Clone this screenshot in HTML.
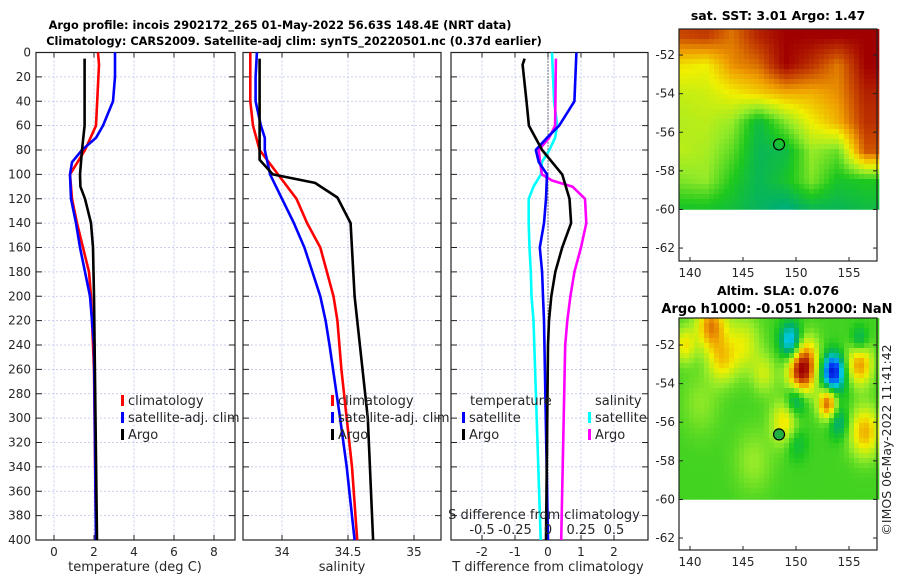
<!DOCTYPE html>
<html><head><meta charset="utf-8">
<style>
body{margin:0;background:#fff;}
svg{display:block;font-family:"DejaVu Sans","Liberation Sans",sans-serif;}
.tk{font-size:12px;fill:#262626;}
.tt{font-size:13px;font-weight:bold;fill:#000;}
</style></head>
<body>
<svg id="fig" width="900" height="580" viewBox="0 0 900 580" xmlns="http://www.w3.org/2000/svg">
<rect width="900" height="580" fill="#fff"/>
<text class="tt" x="280" y="29" text-anchor="middle" style="font-size:11.3px">Argo profile: incois 2902172_265 01-May-2022 56.63S 148.4E (NRT data)</text>
<text class="tt" x="294" y="45" text-anchor="middle" style="font-size:11.3px">Climatology: CARS2009. Satellite-adj clim: synTS_20220501.nc (0.37d earlier)</text>
<g id="g"></g>
</svg>
<script>
// ---- data ----
const depthTicks=[0,20,40,60,80,100,120,140,160,180,200,220,240,260,280,300,320,340,360,380,400];
const tTicks=[0,2,4,6,8];
const sTicks=[34,34.5,35];
const tdTicks=[-2,-1,0,1,2];
const sdTicks=[-0.5,-0.25,0,0.25,0.5];
const sdTickLabels=["-0.5","-0.25","0","0.25","0.5"];

const tClimDepth=[0,10,60,80,100,120,140,160,180,200,260,400];
const tClimVal=[2.2,2.25,2.1,1.55,0.8,0.9,1.15,1.45,1.75,1.85,2.0,2.1];
const tSatDepth=[0,20,40,60,70,80,90,100,120,140,160,180,200,240,400];
const tSatVal=[3.05,3.05,2.95,2.45,2.1,1.4,0.9,0.8,0.85,1.1,1.3,1.55,1.8,2.0,2.1];
const tArgoDepth=[5,60,80,100,110,120,140,160,200,400];
const tArgoVal=[1.53,1.53,1.4,1.3,1.32,1.55,1.85,1.95,2.0,2.15];

const sClimDepth=[0,40,60,80,100,120,140,160,180,200,220,260,300,340,400];
const sClimVal=[33.76,33.76,33.78,33.83,33.97,34.11,34.19,34.29,34.34,34.39,34.42,34.45,34.49,34.53,34.57];
const sSatDepth=[0,20,40,60,70,80,100,120,140,160,180,200,220,240,300,340,400];
const sSatVal=[33.81,33.8,33.8,33.84,33.87,33.87,33.91,34.0,34.09,34.17,34.23,34.29,34.33,34.36,34.44,34.49,34.55];
const sArgoDepth=[5,88,100,107,119,140,200,300,400];
const sArgoVal=[33.83,33.83,33.93,34.25,34.42,34.52,34.55,34.65,34.69];

const dtArgoDepth=[5,10,40,60,80,100,120,140,160,180,200,220,240,400];
const dtArgoVal=[-0.71,-0.77,-0.65,-0.58,-0.18,0.43,0.65,0.7,0.43,0.22,0.1,0.03,0,-0.06];
const dtSatDepth=[0,20,40,60,70,80,90,100,120,140,160,180,200,220,400];
const dtSatVal=[0.86,0.83,0.8,0.34,-0.03,-0.37,-0.28,-0.03,-0.06,-0.12,-0.25,-0.18,-0.15,-0.12,0];
const dsSatDepth=[0,40,60,70,80,90,100,110,120,140,160,180,200,220,400];
const dsSatVal=[0.03,0.046,0.07,0.054,0.01,-0.046,-0.054,-0.11,-0.146,-0.146,-0.14,-0.13,-0.125,-0.11,-0.055];
const dsArgoDepth=[5,60,70,80,90,100,105,110,120,140,160,180,200,220,240,400];
const dsArgoVal=[0.06,0.054,0.008,-0.07,-0.06,-0.046,0.03,0.185,0.28,0.29,0.25,0.2,0.17,0.146,0.13,0.1];

// maps
const lonTicks=[140,145,150,155];
const latTicks=[-52,-54,-56,-58,-60,-62];
const sstLons=[139,141.5,144,146.5,149,151.5,154,156.5];
const sstLats=[-51,-52.5,-54,-55.5,-57,-58.5,-60];
const sstGrid=[
[0.9,0.92,0.85,0.95,1,1,1,1],
[0.72,0.7,0.82,0.86,1,0.93,0.84,1],
[0.65,0.66,0.7,0.74,0.78,0.78,0.82,0.95],
[0.63,0.64,0.6,0.45,0.58,0.7,0.78,0.93],
[0.64,0.62,0.55,0.43,0.45,0.6,0.56,0.88],
[0.58,0.6,0.5,0.43,0.48,0.58,0.48,0.5],
[0.48,0.48,0.46,0.42,0.38,0.43,0.43,0.45]];
const slaBase=0.53;
const blobLon=[142,145,149.5,150.5,153.5,156,156,150,153,149,154,156.5,143,150,139.5,151,147,141,153.5,146];
const blobLat=[-51,-52,-51.8,-53.5,-53.3,-53,-51.8,-54.8,-55,-56,-56,-56.5,-52.8,-57,-52,-52.5,-53.5,-55,-53.8,-58];
const blobAmp=[0.3,0.15,-0.3,0.42,-0.35,0.28,-0.15,-0.22,0.38,0.2,-0.15,0.25,0.18,-0.1,0.18,0.18,0.12,0.06,-0.18,0.07];
const blobSize=[1.4,1.6,1.0,1.3,0.9,1.2,0.8,1.0,0.9,1.3,0.9,1.4,1.3,1.0,1.0,1.2,1.1,1.8,1.3,1.8];
const mapCircleLon=148.4, mapCircleLat=-56.63;

// ---- drawing ----
const NS='http://www.w3.org/2000/svg';
const G=document.getElementById('g');
function mk(tag,attrs,parent){const e=document.createElementNS(NS,tag);for(const k in attrs)e.setAttribute(k,attrs[k]);(parent||G).appendChild(e);return e;}
const Y0=52.5,Y1=540;
const yD=d=>Y0+(d/400)*(Y1-Y0);

function panel(name,x0,x1,xs,xticks,xlabels,ylabels){
  const g=mk('g',{});
  
  
  xticks.forEach(v=>{const x=xs(v);mk('line',{x1:x,x2:x,y1:Y0,y2:Y1,stroke:'#b8c0e8','stroke-width':0.8,'stroke-dasharray':'2,2'},g);
    mk('line',{x1:x,x2:x,y1:Y1,y2:Y1-5,stroke:'#222'},g);mk('line',{x1:x,x2:x,y1:Y0,y2:Y0+5,stroke:'#222'},g);});
  depthTicks.forEach(d=>{const y=yD(d);
    if(d>0&&d<400)mk('line',{x1:x0,x2:x1,y1:y,y2:y,stroke:'#b8c0e8','stroke-width':0.8,'stroke-dasharray':'2,2'},g);
    mk('line',{x1:x0,x2:x0+6,y1:y,y2:y,stroke:'#222'},g);mk('line',{x1:x1-6,x2:x1,y1:y,y2:y,stroke:'#222'},g);
    if(ylabels){const t=mk('text',{x:x0-5,y:y+4,'text-anchor':'end',class:'tk'},g);t.textContent=d;
      
      }
  });
  mk('rect',{x:x0,y:Y0,width:x1-x0,height:Y1-Y0,fill:'none',stroke:'#222','stroke-width':1.2},g);
  xticks.forEach((v,i)=>{const t=mk('text',{x:xs(v),y:Y1+16,'text-anchor':'middle',class:'tk'},g);t.textContent=xlabels[i];
    
    });
  return g;
}
function line(g,depths,vals,xs,color,name){
  const pts=depths.map((d,i)=>xs(vals[i]).toFixed(1)+','+yD(d).toFixed(1)).join(' ');
  const p=mk('polyline',{points:pts,fill:'none',stroke:color,'stroke-width':2.6,'stroke-linejoin':'round'},g);
  
  
}
function legend(g,x,y,items){
  items.forEach((it,i)=>{const yy=y+i*17;
    mk('rect',{x:x,y:yy-9,width:3,height:11,fill:it[1]},g);
    const t=mk('text',{x:x+7,y:yy+1,class:'tk',style:'font-size:13px'},g);t.textContent=it[0];
    
    });
}
function label(txt,x,y,name,anchor){const t=mk('text',{x:x,y:y,'text-anchor':anchor||'middle',class:'tk',style:'font-size:13px'});t.textContent=txt;
  
  return t;}

// panel 1
const xT=v=>54+20*v;
const p1=panel('temperature-panel',36,235,xT,tTicks,tTicks.map(String),true);
line(p1,tClimDepth,tClimVal,xT,'#ff0000','temp-climatology-line');
line(p1,tSatDepth,tSatVal,xT,'#0000ff','temp-satellite-line');
line(p1,tArgoDepth,tArgoVal,xT,'#000','temp-argo-line');
legend(p1,121,404,[['climatology','#ff0000'],['satellite-adj. clim','#0000ff'],['Argo','#000']]);
label('temperature (deg C)',135,571,'x-axis-title-temperature');

// panel 2
const xS=v=>282+132*(v-34);
const p2=panel('salinity-panel',243,441,xS,sTicks,['34','34.5','35'],false);
line(p2,sClimDepth,sClimVal,xS,'#ff0000','sal-climatology-line');
line(p2,sSatDepth,sSatVal,xS,'#0000ff','sal-satellite-line');
line(p2,sArgoDepth,sArgoVal,xS,'#000','sal-argo-line');
legend(p2,331,404,[['climatology','#ff0000'],['satellite-adj. clim','#0000ff'],['Argo','#000']]);
label('salinity',342,571,'x-axis-title-salinity');

// panel 3
const xDT=v=>548+33*v;
const xDS=v=>548+132*v;
const p3=panel('difference-panel',451,648,xDT,tdTicks,tdTicks.map(String),false);
mk('line',{x1:xDT(0),x2:xDT(0),y1:Y0,y2:Y1,stroke:'#000','stroke-width':1,'stroke-dasharray':'1,2'},p3);
line(p3,dsSatDepth,dsSatVal,xDS,'#00ffff','sdiff-satellite-line');
line(p3,dsArgoDepth,dsArgoVal,xDS,'#ff00ff','sdiff-argo-line');
line(p3,dtSatDepth,dtSatVal,xDT,'#0000ff','tdiff-satellite-line');
line(p3,dtArgoDepth,dtArgoVal,xDT,'#000','tdiff-argo-line');
let t3=mk('text',{x:470,y:405,class:'tk',style:'font-size:13px'},p3);t3.textContent='temperature';


t3=mk('text',{x:595,y:405,class:'tk',style:'font-size:13px'},p3);t3.textContent='salinity';


legend(p3,462,421,[['satellite','#0000ff'],['Argo','#000']]);
legend(p3,588,421,[['satellite','#00ffff'],['Argo','#ff00ff']]);
label('S difference from climatology',544,519,'s-diff-axis-title');
sdTicks.forEach((v,i)=>{label(sdTickLabels[i],xDS(v),534,'s-diff-tick-label');});
label('T difference from climatology',548,571,'x-axis-title-tdiff');

// ---- maps ----
const MX0=679,MX1=877;
const lonX=l=>690+(l-140)*10.6;
function cmap(v){
  const st=[[0,[0,0,200]],[0.15,[0,80,255]],[0.3,[0,200,220]],[0.4,[0,175,110]],[0.5,[30,200,30]],[0.6,[150,235,40]],[0.7,[240,240,0]],[0.8,[240,160,0]],[0.9,[200,70,0]],[1,[160,0,0]]];
  v=Math.max(0,Math.min(1,v));
  for(let i=1;i<st.length;i++){if(v<=st[i][0]){const a=st[i-1],b=st[i],f=(v-a[0])/(b[0]-a[0]);
    return 'rgb('+a[1].map((c,j)=>Math.round(c+(b[1][j]-c)*f)).join(',')+')';}}
  return 'rgb(160,0,0)';
}
function interpGrid(lon,lat){
  let ci=0;while(ci<sstLons.length-2&&lon>sstLons[ci+1])ci++;
  let ri=0;while(ri<sstLats.length-2&&lat<sstLats[ri+1])ri++;
  let fx=(lon-sstLons[ci])/(sstLons[ci+1]-sstLons[ci]);fx=Math.max(0,Math.min(1,fx));
  let fy=(lat-sstLats[ri])/(sstLats[ri+1]-sstLats[ri]);fy=Math.max(0,Math.min(1,fy));
  const a=sstGrid[ri][ci],b=sstGrid[ri][ci+1],c=sstGrid[ri+1][ci],d=sstGrid[ri+1][ci+1];
  return a*(1-fx)*(1-fy)+b*fx*(1-fy)+c*(1-fx)*fy+d*fx*fy;
}
function slaVal(lon,lat){
  let v=slaBase;
  for(let i=0;i<blobLon.length;i++){const dx=(lon-blobLon[i])/blobSize[i],dy=(lat-blobLat[i])/(blobSize[i]*0.9);v+=blobAmp[i]*Math.exp(-(dx*dx+dy*dy));}
  return v;
}
function map(name,top,bottom,latTop,fn,circleFill){
  const g=mk('g',{});
  
  
  const latY=l=>top+(latTop-l)*19.3;
  const yData=latY(-60);
  const cs=5;
  for(let y=top;y<yData;y+=cs){for(let x=MX0;x<MX1;x+=cs){
    const lon=140+(x+cs/2-690)/10.6, lat=latTop-(y+cs/2-top)/19.3;
    mk('rect',{x:x,y:y,width:cs+0.3,height:Math.min(cs,yData-y)+0.3,fill:cmap(fn(lon,lat))},g);}}
  latTicks.forEach(l=>{const y=latY(l);mk('line',{x1:MX0,x2:MX0+4,y1:y,y2:y,stroke:'#222'},g);mk('line',{x1:MX1-4,x2:MX1,y1:y,y2:y,stroke:'#222'},g);
    const t=mk('text',{x:MX0-4,y:y+4,'text-anchor':'end',class:'tk'},g);t.textContent=l;
    
    });
  lonTicks.forEach(l=>{const x=lonX(l);mk('line',{x1:x,x2:x,y1:bottom,y2:bottom-4,stroke:'#222'},g);
    const t=mk('text',{x:x,y:bottom+16,'text-anchor':'middle',class:'tk'},g);t.textContent=l;
    
    });
  mk('rect',{x:MX0,y:top,width:MX1-MX0,height:bottom-top,fill:'none',stroke:'#222','stroke-width':1.2},g);
  const c=mk('circle',{cx:lonX(mapCircleLon),cy:latY(mapCircleLat),r:5.5,fill:circleFill,stroke:'#000','stroke-width':1.2},g);
  
  
}
map('sst-map',29,261,-50.65,interpGrid,'none');
map('sla-map',318,550,-50.6,slaVal,'#20b040');
let mt=mk('text',{x:778,y:20,'text-anchor':'middle',class:'tt',style:'font-size:12.5px'});mt.textContent='sat. SST: 3.01 Argo: 1.47';


mt=mk('text',{x:778,y:295,'text-anchor':'middle',class:'tt',style:'font-size:12.5px'});mt.textContent='Altim. SLA: 0.076';


mt=mk('text',{x:777,y:313,'text-anchor':'middle',class:'tt',style:'font-size:13px'});mt.textContent='Argo h1000: -0.051 h2000: NaN';


mt=mk('text',{x:0,y:0,'text-anchor':'middle',class:'tk',transform:'translate(891,440) rotate(-90)',style:'font-size:12.5px'});mt.textContent='©IMOS 06-May-2022 11:41:42';


</script>
</body></html>
